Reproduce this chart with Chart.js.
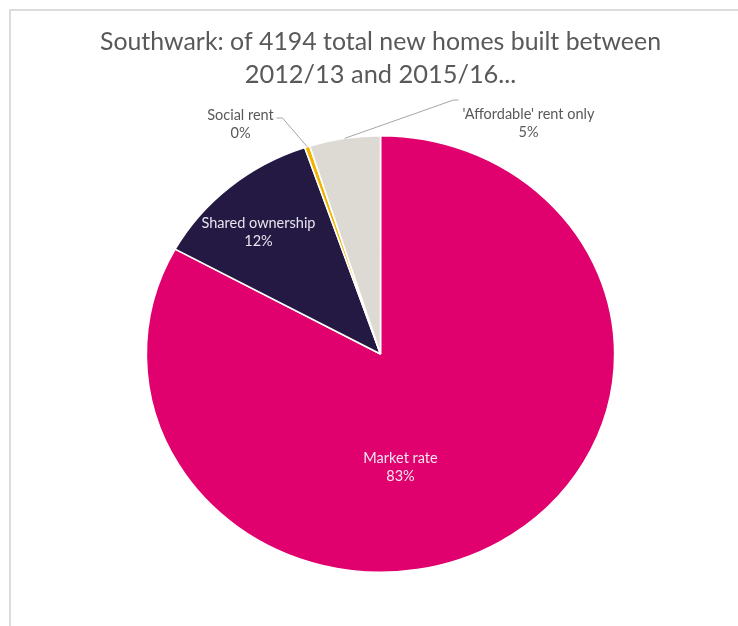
<!DOCTYPE html>
<html>
<head>
<meta charset="utf-8">
<script src="https://cdn.jsdelivr.net/npm/chart.js@4"></script>
<style>
  body { margin: 0; background: #fff; overflow: hidden; }
  #frame { position: absolute; left: 9px; top: 9px; width: 800px; height: 700px;
           border-left: 2px solid #dcdcdc; border-top: 2px solid #dcdcdc; }
  #pie { position: absolute; left: 0; top: 0; }
</style>
</head>
<body>
<div id="frame"></div>
<canvas id="pie" width="738" height="626"></canvas>
<script>
// homes built 2012/13 - 2015/16, by tenure
const categories = ['Market rate', 'Shared ownership', 'Social rent', "'Affordable' rent only"];
const homes = [3480, 494, 15, 205];
const colours = ['#e0006e', '#231942', '#f0b400', '#dddad3'];
const titleLines = ['Southwark: of 4194 total new homes built between', '2012/13 and 2015/16...'];

const total = homes.reduce((a, b) => a + b, 0);
const pct = homes.map(v => Math.round(v / total * 100) + '%');

// the original pie is a little wider than tall
const stretchX = 1.073;
const labelFont = '14.5px Lato';

// label spots relative to pie centre (inside labels) / leader line ends (outside labels)
const labelSpots = [
    { dx: 20, dy: 104, colour: '#f4e6ee' },
    { dx: -122, dy: -131, colour: '#e6e4ee' },
    { dx: -140, dy: -239, colour: '#595959', leader: [[-98, -236], [-104, -236]] },
    { dx: 148, dy: -240, colour: '#595959', leader: [[73, -254], [78, -254]] }
];

const ellipse = {
    id: 'ellipse',
    beforeDatasetsDraw(chart) {
        const arc = chart.getDatasetMeta(0).data[0];
        const ctx = chart.ctx;
        ctx.save();
        ctx.translate(arc.x, arc.y);
        ctx.scale(stretchX, 1);
        ctx.translate(-arc.x, -arc.y);
    },
    afterDatasetsDraw(chart) {
        chart.ctx.restore();
    }
};

const sliceLabels = {
    id: 'sliceLabels',
    afterDraw(chart) {
        const ctx = chart.ctx;
        const arcs = chart.getDatasetMeta(0).data;
        ctx.save();
        ctx.font = labelFont;
        ctx.textAlign = 'center';
        ctx.textBaseline = 'middle';
        arcs.forEach((arc, i) => {
            const spot = labelSpots[i];
            const x = arc.x + spot.dx;
            const y = arc.y + spot.dy;
            if (spot.leader) {
                const mid = (arc.startAngle + arc.endAngle) / 2;
                const ax = arc.x + Math.cos(mid) * arc.outerRadius * stretchX;
                const ay = arc.y + Math.sin(mid) * arc.outerRadius;
                ctx.strokeStyle = '#a6a6a6';
                ctx.lineWidth = 1;
                ctx.beginPath();
                ctx.moveTo(ax, ay);
                ctx.lineTo(arc.x + spot.leader[0][0], arc.y + spot.leader[0][1]);
                ctx.lineTo(arc.x + spot.leader[1][0], arc.y + spot.leader[1][1]);
                ctx.stroke();
            }
            ctx.fillStyle = spot.colour;
            ctx.fillText(categories[i], x, y);
            ctx.fillText(pct[i], x, y + 18);
        });
        ctx.restore();
    }
};

new Chart(document.getElementById('pie'), {
    type: 'pie',
    data: {
        labels: categories,
        datasets: [{
            data: homes,
            backgroundColor: colours,
            borderColor: '#ffffff',
            borderWidth: 1.5
        }]
    },
    options: {
        responsive: false,
        animation: false,
        layout: { padding: { top: 0, left: 100, right: 77, bottom: 53 } },
        plugins: {
            legend: { display: false },
            tooltip: { enabled: false },
            title: {
                display: true,
                text: titleLines,
                color: '#595959',
                font: { family: 'Lato', size: 25.4, weight: 'normal', lineHeight: 1.3 },
                padding: { top: 25, bottom: 44 }
            }
        }
    },
    plugins: [ellipse, sliceLabels]
});
</script>
</body>
</html>
